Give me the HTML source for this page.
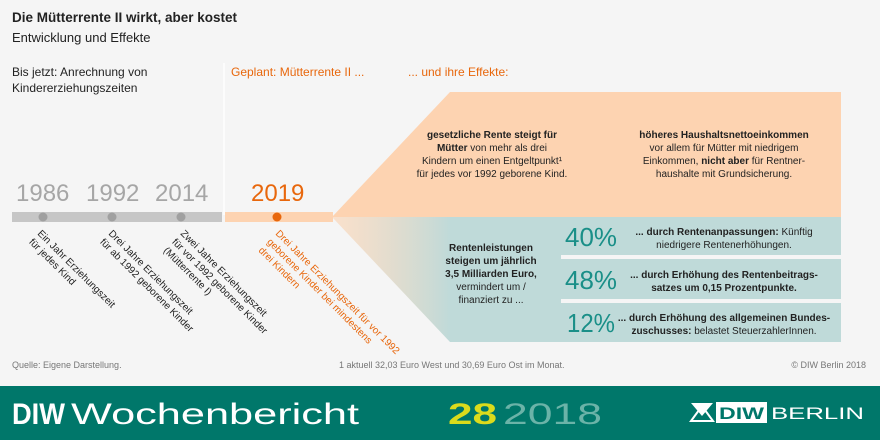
<!DOCTYPE html>
<html><head><meta charset="utf-8"><style>
body{margin:0;background:#f5f5f5}
svg{display:block;font-family:"Liberation Sans",sans-serif}
</style></head><body>
<svg width="880" height="440" viewBox="0 0 880 440" xmlns="http://www.w3.org/2000/svg">
<defs>
<linearGradient id="g" x1="332" y1="0" x2="450" y2="0" gradientUnits="userSpaceOnUse">
<stop offset="0" stop-color="#fdd3b1" stop-opacity="0.6"/><stop offset="1" stop-color="#bfdad9"/>
</linearGradient>
</defs>
<rect width="880" height="440" fill="#f5f5f5"/>
<text x="12" y="22" font-size="13.5" font-weight="bold" fill="#222">Die Mütterrente II wirkt, aber kostet</text>
<text x="12" y="42" font-size="13" fill="#222">Entwicklung und Effekte</text>
<text x="12" y="76" font-size="12" fill="#222">Bis jetzt: Anrechnung von</text>
<text x="12" y="92" font-size="12" fill="#222">Kindererziehungszeiten</text>
<text x="231" y="76" font-size="12" fill="#e8670c">Geplant: Mütterrente II ...</text>
<text x="408" y="76" font-size="12" fill="#e8670c">... und ihre Effekte:</text>
<line x1="224" y1="63" x2="224" y2="215" stroke="#fff" stroke-width="1.5"/>
<polygon points="332,217 450,92 841,92 841,217" fill="#fdd3b1"/>
<polygon points="332,217 841,217 841,342 450,342" fill="url(#g)"/>
<rect x="561" y="255" width="280" height="4" fill="#f5f5f5"/>
<rect x="561" y="299" width="280" height="4" fill="#f5f5f5"/>
<rect x="12" y="212" width="210" height="10" fill="#c6c6c6"/>
<rect x="225" y="212" width="108" height="10" fill="#fdd3b1"/>
<circle cx="43" cy="217" r="4.5" fill="#a0a0a0"/>
<circle cx="112" cy="217" r="4.5" fill="#a0a0a0"/>
<circle cx="181" cy="217" r="4.5" fill="#a0a0a0"/>
<circle cx="277" cy="217" r="4.5" fill="#e8670c"/>
<g font-size="24" fill="#a6a6a6"><text x="16" y="201">1986</text><text x="86" y="201">1992</text><text x="155" y="201">2014</text></g>
<text x="251" y="201" font-size="24" fill="#e8670c">2019</text>
<g font-size="10" fill="#222">
<g transform="translate(37,234) rotate(45)"><text x="0" y="0">Ein Jahr Erziehungszeit</text><text x="0" y="12">für jedes Kind</text></g>
<g transform="translate(108,234) rotate(45)"><text x="0" y="0">Drei Jahre Erziehungszeit</text><text x="0" y="12">für ab 1992 geborene Kinder</text></g>
<g transform="translate(180,234) rotate(45)"><text x="0" y="0">Zwei Jahre Erziehungszeit</text><text x="0" y="12">für vor 1992 geborene Kinder</text><text x="0" y="24">(Mütterrente I)</text></g>
<g transform="translate(275,234) rotate(45)" fill="#e8670c"><text x="0" y="0">Drei Jahre Erziehungszeit für vor 1992</text><text x="0" y="12">geborene Kinder bei mindestens</text><text x="0" y="24">drei Kindern</text></g>
</g>
<g font-size="10" fill="#222" text-anchor="middle">
<text x="492" y="138" font-weight="bold">gesetzliche Rente steigt für</text>
<text x="492" y="151"><tspan font-weight="bold">Mütter</tspan> von mehr als drei</text>
<text x="492" y="164">Kindern um einen Entgeltpunkt¹</text>
<text x="492" y="177">für jedes vor 1992 geborene Kind.</text>
<text x="724" y="138" font-weight="bold">höheres Haushaltsnettoeinkommen</text>
<text x="724" y="151">vor allem für Mütter mit niedrigem</text>
<text x="724" y="164">Einkommen, <tspan font-weight="bold">nicht aber</tspan> für Rentner-</text>
<text x="724" y="177">haushalte mit Grundsicherung.</text>
<text x="491" y="251" font-weight="bold">Rentenleistungen</text>
<text x="491" y="264" font-weight="bold">steigen um jährlich</text>
<text x="491" y="277" font-weight="bold">3,5 Milliarden Euro,</text>
<text x="491" y="290">vermindert um /</text>
<text x="491" y="303">finanziert zu ...</text>
<text x="724" y="235"><tspan font-weight="bold">... durch Rentenanpassungen:</tspan> Künftig</text>
<text x="724" y="248">niedrigere Rentenerhöhungen.</text>
<text x="724" y="278" font-weight="bold">... durch Erhöhung des Rentenbeitrags-</text>
<text x="724" y="291" font-weight="bold">satzes um 0,15 Prozentpunkte.</text>
<text x="724" y="321"><tspan font-weight="bold">... durch Erhöhung des allgemeinen Bundes-</tspan></text>
<text x="724" y="334"><tspan font-weight="bold">zuschusses:</tspan> belastet SteuerzahlerInnen.</text>
</g>
<g font-size="26" fill="#1a8f88" text-anchor="middle">
<text x="591" y="246" textLength="52" lengthAdjust="spacingAndGlyphs">40%</text><text x="591" y="289" textLength="52" lengthAdjust="spacingAndGlyphs">48%</text><text x="591" y="332" textLength="48" lengthAdjust="spacingAndGlyphs">12%</text>
</g>
<g font-size="9" fill="#777">
<text x="12" y="368">Quelle: Eigene Darstellung.</text>
<text x="339" y="368">1  aktuell 32,03 Euro West und 30,69 Euro Ost im Monat.</text>
<text x="866" y="368" text-anchor="end">© DIW Berlin 2018</text>
</g>
<rect x="0" y="386" width="880" height="54" fill="#00776a"/>
<text x="12" y="424" font-size="30" font-weight="bold" fill="#fff" textLength="53" lengthAdjust="spacingAndGlyphs">DIW</text>
<text x="71" y="424" font-size="30" fill="#fff" textLength="288" lengthAdjust="spacingAndGlyphs">Wochenbericht</text>
<text x="448" y="424" font-size="30" font-weight="bold" fill="#dbdb1c" textLength="49" lengthAdjust="spacingAndGlyphs">28</text>
<text x="503" y="424" font-size="30" fill="#6bb3a8" textLength="99" lengthAdjust="spacingAndGlyphs">2018</text>
<g fill="#fff">
<polygon points="691,403 713,403 702,416"/>
<polygon points="691,421 702,406 713,421" fill="none" stroke="#fff" stroke-width="2"/>
<rect x="716" y="402" width="51" height="21"/>
<text x="719" y="419" font-size="17" font-weight="bold" fill="#00776a" textLength="45" lengthAdjust="spacingAndGlyphs">DIW</text>
<text x="771" y="419" font-size="17" fill="#fff" textLength="93" lengthAdjust="spacingAndGlyphs">BERLIN</text>
</g>
</svg>
</body></html>
